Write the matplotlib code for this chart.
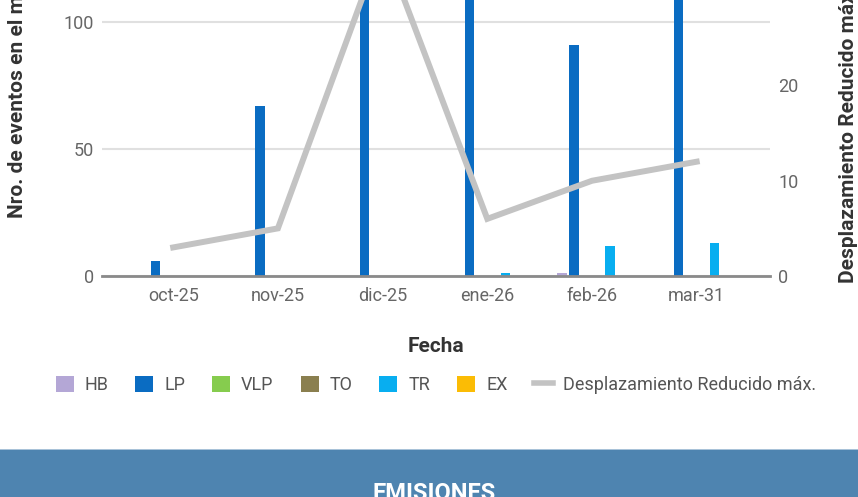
import matplotlib
matplotlib.use("Agg")
import matplotlib.pyplot as plt
from matplotlib.patches import Patch, Rectangle
from matplotlib.lines import Line2D
import numpy as np

plt.rcParams['font.family'] = ['Roboto', 'DejaVu Sans']

# ---- data ----
categories = ["oct-25", "nov-25", "dic-25", "ene-26", "feb-26", "mar-31"]
series_names = ["HB", "LP", "VLP", "TO", "TR", "EX"]
hb = [0, 0, 0, 0, 1, 0]
lp = [6, 67, 135, 125, 91, 130]
vlp = [0, 0, 0, 0, 0, 0]
to = [0, 0, 0, 0, 0, 0]
tr = [0, 0, 0, 1, 12, 13]
ex = [0, 0, 0, 0, 0, 0]
dr_max = [3, 5, 35, 6, 10, 12]
line_name = "Desplazamiento Reducido máx."
left_ticks = [0, 50, 100]
right_ticks = [0, 10, 20]

colors = ["#b4a7d6", "#0a6cc2", "#86cc4e", "#8a7f4f", "#08aef0", "#fbbc05"]
line_color = "#c3c3c3"

W, H = 858, 497
fig = plt.figure(figsize=(W / 100, H / 100), dpi=100)

left_px, right_px, bottom_px, top_px = 102, 770, 276, -105
ax = fig.add_axes([left_px / W, (H - bottom_px) / H,
                   (right_px - left_px) / W, (bottom_px - top_px) / H])
ax.set_zorder(1)
ax.patch.set_alpha(0)

x = np.arange(len(categories))
all_series = [hb, lp, vlp, to, tr, ex]
step = 0.1145
bw = 0.088
for i, (vals, c) in enumerate(zip(all_series, colors)):
    ax.bar(x + (i - 2.5) * step, vals, width=bw, color=c, zorder=3)

ax.set_xlim(-0.68, len(categories) - 1 + 0.70)
ax.set_ylim(0, 150)
ax.set_yticks(left_ticks)
ax.set_xticks(x)
ax.set_xticklabels(categories)
ax.grid(axis='y', color='#e0e0e0', linewidth=1.5, zorder=0)
ax.tick_params(axis='both', length=0, labelsize=13, labelcolor='#666666')
ax.tick_params(axis='x', pad=8)
ax.tick_params(axis='y', pad=6)
for s in ['top', 'left', 'right']:
    ax.spines[s].set_visible(False)
ax.spines['bottom'].set_color('#8a8a8a')
ax.spines['bottom'].set_linewidth(2)
ax.spines['bottom'].set_zorder(4)

ax2 = ax.twinx()
ax2.set_zorder(2)
ax2.plot(x, dr_max, color=line_color, linewidth=4.3, solid_joinstyle='miter', zorder=5)
ax2.set_ylim(0, 40)
ax2.set_yticks(right_ticks)
ax2.tick_params(axis='y', length=0, labelsize=13, labelcolor='#666666', pad=6)
for s in ['top', 'left', 'right', 'bottom']:
    ax2.spines[s].set_visible(False)

# axis labels
fig.text(436 / W, (H - 347) / H, "Fecha", ha='center', va='center',
         fontsize=15, fontweight='bold', color='#333333')
fig.text(18 / W, (H - 218) / H, "Nro. de eventos en el mes", rotation=90,
         ha='center', va='bottom', fontsize=15, fontweight='bold', color='#333333')
fig.text(848 / W, (H - 283) / H, "Desplazamiento Reducido máx. (cm²)", rotation=90,
         ha='center', va='bottom', fontsize=15, fontweight='bold', color='#333333')

# legend
handles = [Patch(facecolor=c, edgecolor='none') for c in colors]
handles.append(Line2D([0], [0], color=line_color, linewidth=4))
labels = series_names + [line_name]
leg = fig.legend(handles, labels, loc='center', bbox_to_anchor=(436 / W, (H - 385) / H),
                 ncol=7, frameon=False, fontsize=13, handlelength=1.0, handleheight=1.0,
                 handletextpad=0.6, columnspacing=1.5, labelcolor='#555555')

# bottom band
fig.patches.append(Rectangle((0, 0), 1, (H - 449) / H, transform=fig.transFigure,
                             facecolor='#4e84b0', edgecolor='none', zorder=0))
fig.patches.append(Rectangle((0, (H - 450) / H), 1, 1.5 / H, transform=fig.transFigure,
                             facecolor='#a8c2d8', edgecolor='none', zorder=0))
fig.text(434 / W, (H - 482) / H, "EMISIONES", ha='center', va='top', fontsize=17,
         fontweight='bold', color='white')

fig.savefig("out.png", dpi=100)
